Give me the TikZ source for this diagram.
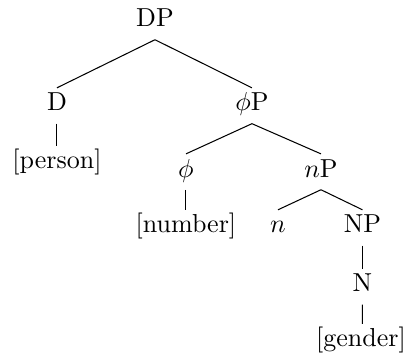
\documentclass[tikz,border=0pt]{standalone}
\usepackage{amssymb}
\usepackage{amsmath}
\usepackage{tikz}
\newcommand{\featP}[1]{$#1$P}

\begin{document}
\begin{tikzpicture}[lbl/.style={anchor=base,inner sep=2.2pt,text height=6.5pt,text depth=2.5pt},every node/.style=lbl]
\useasboundingbox (0,0) rectangle (5.529,-4.812);
\node (dp) at (2.095,-0.365) {DP};
\node (d) at (0.770,-1.500) {D};
\node (phip) at (3.406,-1.500) {\featP{\phi}};
\node (pers) at (0.770,-2.284) {[person]};
\node (phi) at (2.514,-2.393) {$\phi$};
\node (np) at (4.339,-2.393) {\featP{n}};
\node (num) at (2.514,-3.149) {[number]};
\node (n) at (3.758,-3.149) {$n$};
\node (nnp) at (4.900,-3.149) {NP};
\node (nn) at (4.900,-3.947) {N};
\node (gen) at (4.880,-4.690) {[gender]};
% branches
\draw (dp.south) -- (d.north);
\draw (dp.south) -- (phip.north);
\draw (d.south) -- (pers.north);
\draw (phip.south) -- (phi.north);
\draw (phip.south) -- (np.north);
\draw (phi.south) -- (num.north);
\draw (np.south) -- (n.north);
\draw (np.south) -- (nnp.north);
\draw (nnp.south) -- (nn.north);
\draw (nn.south) -- ([xshift=0.02cm]gen.north);
\end{tikzpicture}
\end{document}
